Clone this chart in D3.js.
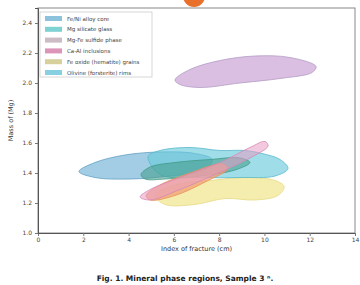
<html>
<head>
<script src="https://d3js.org/d3.v7.min.js"></script>
<style>
body { margin: 0; background: #fff; }
text { font-family: "DejaVu Sans", sans-serif; }
</style>
</head>
<body>
<svg id="chart" width="360" height="285"></svg>
<script>
// ticks
var xTicks = [0, 2, 4, 6, 8, 10, 12, 14];
var yTicks = [1.0, 1.2, 1.4, 1.6, 1.8, 2.0, 2.2, 2.4];

// legend
var legendNames = ["Fe/Ni alloy core", "Mg silicate glass", "Mg-Fe sulfide phase",
                   "Ca-Al inclusions", "Fe oxide (hematite) grains", "Olivine (forsterite) rims"];
var legendColors = ["#8cc2dc", "#7fd2d4", "#cbbcc6", "#dc94b8", "#d8d09c", "#86d0e2"];

// region outlines [x, y]
var blueRegion = [[1.81,1.41],[2.52,1.47],[3.84,1.52],[5.39,1.54],[6.93,1.53],[7.69,1.49],
                  [7.38,1.42],[5.83,1.38],[4.06,1.36],[2.52,1.37]];
var tealRegion = [[4.86,1.51],[5.39,1.55],[6.71,1.57],[8.04,1.55],[9.14,1.55],[9.89,1.53],
                  [10.69,1.49],[11.04,1.43],[10.47,1.38],[8.92,1.37],[7.16,1.37],[5.39,1.39]];
var greenRegion = [[4.55,1.39],[4.95,1.44],[6.05,1.47],[7.60,1.49],[8.92,1.50],[9.36,1.47],
                   [8.70,1.42],[7.16,1.38],[5.61,1.36],[4.73,1.36]];
var purpleRegion = [[6.05,2.02],[6.71,2.09],[8.04,2.15],[9.58,2.18],[11.13,2.17],[12.28,2.11],
                    [12.10,2.07],[10.69,2.03],[8.92,2.00],[7.16,1.97],[6.27,1.99]];
var pinkRegion = [[4.51,1.24],[4.95,1.29],[6.27,1.37],[8.04,1.47],[9.36,1.57],[10.03,1.61],
                  [10.16,1.58],[9.36,1.50],[7.82,1.39],[6.27,1.29],[4.95,1.22]];
var orangeRegion = [[4.77,1.25],[5.39,1.32],[6.71,1.40],[8.13,1.46],[8.39,1.43],[7.38,1.34],
                    [6.05,1.25],[4.95,1.22]];
var yellowRegion = [[5.17,1.25],[6.05,1.32],[7.60,1.35],[9.36,1.37],[10.47,1.35],[10.87,1.31],
                    [10.60,1.25],[9.58,1.22],[8.26,1.23],[6.93,1.19],[5.61,1.19]];

var regions = [
  {pts: purpleRegion, fill: "#d6b8e0", stroke: "#b49cc4", op: 0.9},
  {pts: blueRegion, fill: "#84bcdb", stroke: "#5f9fc4", op: 0.75},
  {pts: yellowRegion, fill: "#f2e89a", stroke: "#e6da84", op: 0.8},
  {pts: tealRegion, fill: "#6ccbdc", stroke: "#58b8cc", op: 0.65},
  {pts: greenRegion, fill: "#3f9a86", stroke: "#3f9a86", op: 0.55},
  {pts: orangeRegion, fill: "#f0a070", stroke: "#e89060", op: 0.75},
  {pts: pinkRegion, fill: "#e89cc4", stroke: "#d888b4", op: 0.55}
];

var svg = d3.select("#chart");
var mLeft = 38, mRight = 355, mTop = 8, mBottom = 233;

var x = d3.scaleLinear().domain([0, 14]).range([mLeft, mRight]);
var y = d3.scaleLinear().domain([1.0, 2.5]).range([mBottom, mTop]);

// orange marker at top
svg.append("circle").attr("cx", 194).attr("cy", -4).attr("r", 11).attr("fill", "#e8702a");

// frame
svg.append("rect").attr("x", mLeft).attr("y", mTop)
  .attr("width", mRight - mLeft).attr("height", mBottom - mTop)
  .attr("fill", "none").attr("stroke", "#888").attr("stroke-width", 1);

var line = d3.line()
  .x(function (d) { return x(d[0]); })
  .y(function (d) { return y(d[1]); })
  .curve(d3.curveCatmullRomClosed.alpha(0.5));

svg.selectAll("path.region").data(regions).enter().append("path")
  .attr("class", "region")
  .attr("d", function (d) { return line(d.pts); })
  .attr("fill", function (d) { return d.fill; })
  .attr("fill-opacity", function (d) { return d.op; })
  .attr("stroke", function (d) { return d.stroke; })
  .attr("stroke-width", 0.8);

// axes
var xAxis = svg.append("g").attr("transform", "translate(0," + mBottom + ")")
  .call(d3.axisBottom(x).tickValues(xTicks).tickSize(3).tickPadding(2).tickFormat(d3.format("d")));
var yAxis = svg.append("g").attr("transform", "translate(" + mLeft + ",0)")
  .call(d3.axisLeft(y).tickValues(yTicks).tickSize(3).tickFormat(d3.format(".1f")));
[xAxis, yAxis].forEach(function (a) {
  a.select(".domain").attr("stroke", "#555");
  a.selectAll(".tick line").attr("stroke", "#777");
  a.selectAll("text").attr("fill", "#444").style("font-size", "6px");
});

svg.append("text").attr("x", (mLeft + mRight) / 2).attr("y", 251)
  .attr("text-anchor", "middle").style("font-size", "6.5px").attr("fill", "#333")
  .text("Index of fracture (cm)");
svg.append("text").attr("transform", "translate(13," + ((mTop + mBottom) / 2) + ") rotate(-90)")
  .attr("text-anchor", "middle").style("font-size", "6.5px").attr("fill", "#333")
  .text("Mass of (Mg)");

// legend
var lg = svg.append("g");
lg.append("rect").attr("x", 40).attr("y", 12).attr("width", 112).attr("height", 65)
  .attr("fill", "#fff").attr("stroke", "#ccc").attr("stroke-width", 0.8);
legendNames.forEach(function (name, i) {
  var ry = 18 + i * 10.8;
  lg.append("rect").attr("x", 45).attr("y", ry - 2).attr("width", 17).attr("height", 5)
    .attr("fill", legendColors[i]);
  lg.append("text").attr("x", 67).attr("y", ry + 2.5)
    .style("font-size", "5.5px").attr("fill", "#444").text(name);
});

// caption
svg.append("text").attr("x", 185).attr("y", 281).attr("text-anchor", "middle")
  .style("font-size", "7.5px").style("font-weight", "bold").attr("fill", "#222")
  .text("Fig. 1. Mineral phase regions, Sample 3 ⁿ.");
</script>
</body>
</html>
